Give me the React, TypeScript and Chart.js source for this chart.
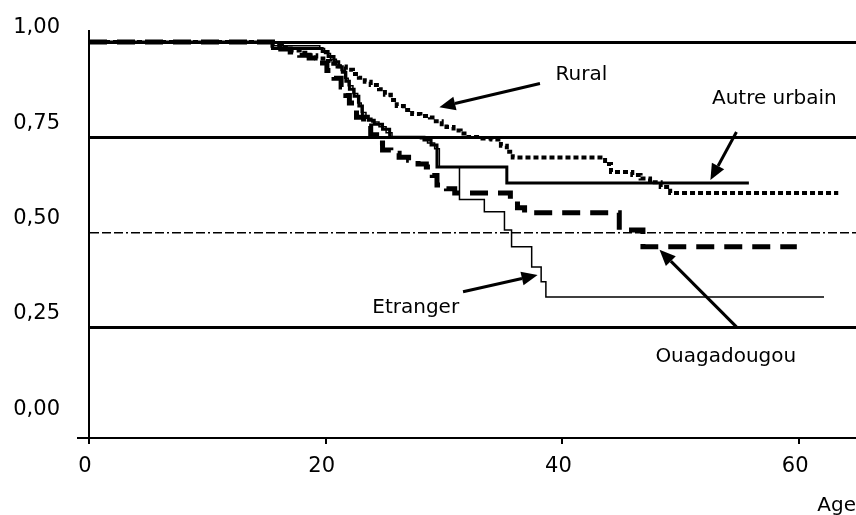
import React, { useEffect, useRef } from "react";
import { Chart, registerables } from "chart.js";

Chart.register(...registerables);

// ---- Tick values ----
const yTicks = [0, 0.25, 0.5, 0.75, 1];
const xTicks = [0, 20, 40, 60];

// ---- Series (Kaplan-Meier steps: age, survival after the step) ----
const ruralAge = [0, 15.5, 16.3, 17.0, 17.8, 18.5, 19.2, 19.8, 20.4, 21.0, 21.7, 22.3, 22.8, 23.3, 23.8, 24.5, 25.0, 25.5, 26.0, 26.6, 27.3, 28.0, 28.8, 29.3, 29.8, 30.2, 30.8, 31.4, 31.9, 33.0, 34.0, 34.8, 35.3, 35.8, 43.6, 44.1, 45.9, 46.6, 47.4, 48.3, 49.1, 63.3];
const ruralSurv = [1, 0.99, 0.984, 0.978, 0.972, 0.965, 0.957, 0.95, 0.943, 0.936, 0.927, 0.916, 0.906, 0.896, 0.887, 0.876, 0.862, 0.848, 0.832, 0.822, 0.811, 0.806, 0.802, 0.792, 0.784, 0.777, 0.768, 0.76, 0.751, 0.747, 0.744, 0.728, 0.712, 0.697, 0.68, 0.659, 0.651, 0.642, 0.632, 0.62, 0.604, 0.604];

const autreAge = [0, 15.5, 19.7, 20.2, 20.7, 21.1, 21.4, 21.7, 22.0, 22.4, 22.8, 23.1, 23.6, 24.1, 24.8, 25.4, 28.3, 28.9, 29.4, 35.3, 55.75];
const autreSurv = [1, 0.983, 0.975, 0.962, 0.948, 0.935, 0.921, 0.897, 0.876, 0.858, 0.832, 0.805, 0.795, 0.784, 0.771, 0.75, 0.743, 0.73, 0.672, 0.63, 0.63];

const etrangerAge = [0, 15.5, 19.5, 19.9, 20.4, 20.9, 21.3, 21.6, 21.9, 22.3, 22.7, 23.0, 23.4, 23.9, 24.5, 25.1, 25.6, 28.0, 28.6, 29.2, 29.6, 31.3, 33.4, 35.1, 35.7, 37.4, 38.2, 38.6, 62.1];
const etrangerSurv = [1, 0.99, 0.983, 0.97, 0.955, 0.94, 0.925, 0.905, 0.885, 0.865, 0.84, 0.815, 0.8, 0.79, 0.778, 0.762, 0.748, 0.746, 0.735, 0.72, 0.672, 0.587, 0.555, 0.507, 0.463, 0.41, 0.371, 0.331, 0.331];

const ouagaAge = [0, 15.5, 16.2, 17.0, 17.8, 18.6, 19.5, 20.1, 20.7, 21.3, 21.7, 22.0, 22.6, 23.2, 23.8, 24.3, 24.8, 25.5, 26.2, 27.0, 27.8, 28.5, 29.0, 29.4, 30.2, 30.9, 35.6, 36.2, 36.8, 44.8, 46.8, 59.8];
const ouagaSurv = [1, 0.99, 0.982, 0.974, 0.965, 0.958, 0.945, 0.925, 0.905, 0.882, 0.86, 0.84, 0.803, 0.78, 0.757, 0.735, 0.717, 0.708, 0.698, 0.69, 0.68, 0.672, 0.65, 0.625, 0.615, 0.604, 0.585, 0.565, 0.552, 0.507, 0.463, 0.463];

// ---- Annotation texts ----
const labelTexts = ["Rural", "Autre urbain", "Etranger", "Ouagadougou"];

// annotation placement (data units): label centre, arrow tail, arrow tip
const labelPlacement = [
  { at: [41.6, 0.913], from: [38.1, 0.891], to: [29.6, 0.829] },
  { at: [57.9, 0.85], from: [54.7, 0.764], to: [52.5, 0.638] },
  { at: [27.6, 0.303], from: [31.6, 0.345], to: [37.9, 0.389] },
  { at: [53.8, 0.174], from: [54.7, 0.253], to: [48.2, 0.455] },
];

const FONT = "'DejaVu Sans', sans-serif";

const pts = (a: number[], s: number[]) => a.map((x, i) => ({ x, y: s[i] }));

const annotationPlugin = {
  id: "kmAnnotations",
  afterDatasetsDraw(chart: any) {
    const { ctx, chartArea } = chart;
    const xs = chart.scales.x;
    const ys = chart.scales.y;
    ctx.save();
    // small stub of the x axis left of the y axis
    ctx.strokeStyle = "#000";
    ctx.lineWidth = 2;
    ctx.beginPath();
    ctx.moveTo(chartArea.left - 12, chartArea.bottom);
    ctx.lineTo(chartArea.left, chartArea.bottom);
    ctx.stroke();

    ctx.fillStyle = "#000";
    ctx.font = `20px ${FONT}`;
    ctx.textAlign = "center";
    ctx.textBaseline = "middle";
    labelPlacement.forEach((p, i) => {
      const lx = xs.getPixelForValue(p.at[0]);
      const ly = ys.getPixelForValue(p.at[1]);
      ctx.fillText(labelTexts[i], lx, ly);
      const x1 = xs.getPixelForValue(p.from[0]);
      const y1 = ys.getPixelForValue(p.from[1]);
      const x2 = xs.getPixelForValue(p.to[0]);
      const y2 = ys.getPixelForValue(p.to[1]);
      const ang = Math.atan2(y2 - y1, x2 - x1);
      const headLen = 16;
      const headW = 7;
      const bx = x2 - headLen * Math.cos(ang);
      const by = y2 - headLen * Math.sin(ang);
      ctx.lineWidth = 3;
      ctx.beginPath();
      ctx.moveTo(x1, y1);
      ctx.lineTo(bx, by);
      ctx.stroke();
      ctx.beginPath();
      ctx.moveTo(x2, y2);
      ctx.lineTo(bx + headW * Math.sin(ang), by - headW * Math.cos(ang));
      ctx.lineTo(bx - headW * Math.sin(ang), by + headW * Math.cos(ang));
      ctx.closePath();
      ctx.fill();
    });
    ctx.restore();
  },
};

export default function App() {
  const ref = useRef<HTMLCanvasElement | null>(null);

  useEffect(() => {
    if (!ref.current) return;
    const chart = new Chart(ref.current, {
      type: "line",
      data: {
        datasets: [
          {
            label: "Rural",
            data: pts(ruralAge, ruralSurv),
            borderColor: "#000",
            borderWidth: 4,
            borderDash: [5, 3],
            stepped: true,
            pointRadius: 0,
            fill: false,
          },
          {
            label: "Autre urbain",
            data: pts(autreAge, autreSurv),
            borderColor: "#000",
            borderWidth: 3,
            stepped: true,
            pointRadius: 0,
            fill: false,
          },
          {
            label: "Etranger",
            data: pts(etrangerAge, etrangerSurv),
            borderColor: "#000",
            borderWidth: 1.5,
            stepped: true,
            pointRadius: 0,
            fill: false,
          },
          {
            label: "Ouagadougou",
            data: pts(ouagaAge, ouagaSurv),
            borderColor: "#000",
            borderWidth: 5,
            borderDash: [18, 10],
            stepped: true,
            pointRadius: 0,
            fill: false,
          },
        ],
      },
      options: {
        animation: false,
        responsive: true,
        maintainAspectRatio: false,
        layout: { padding: { top: 31, left: 0, right: 0, bottom: 0 } },
        plugins: {
          legend: { display: false },
          tooltip: { enabled: false },
        },
        scales: {
          x: {
            type: "linear",
            min: 0,
            max: 64.8,
            afterBuildTicks: (s: any) => {
              s.ticks = xTicks.map((v) => ({ value: v }));
            },
            afterFit: (s: any) => {
              s.height = 77;
              s.paddingLeft = 0;
              s.paddingRight = 0;
            },
            grid: {
              drawOnChartArea: false,
              drawTicks: true,
              tickLength: 6,
              color: "#000",
              lineWidth: 2,
            },
            border: { display: true, color: "#000", width: 2 },
            ticks: {
              color: "#000",
              font: { family: FONT, size: 21 },
              padding: 10,
              labelOffset: -4,
              maxRotation: 0,
            },
            title: {
              display: true,
              text: "Age",
              align: "end",
              color: "#000",
              font: { family: FONT, size: 20 },
              padding: { top: 0, bottom: -3 },
            },
          },
          y: {
            type: "linear",
            min: -0.0386,
            max: 1.0289,
            afterBuildTicks: (s: any) => {
              s.ticks = yTicks.map((v) => ({ value: v }));
            },
            afterFit: (s: any) => {
              s.width = 89;
              s.paddingTop = 0;
              s.paddingBottom = 0;
            },
            grid: {
              drawTicks: false,
              color: (c: any) => (c.tick && c.tick.value === 0 ? "rgba(0,0,0,0)" : "#000"),
              lineWidth: (c: any) => (c.tick && c.tick.value === 0.5 ? 1.5 : 3),
            },
            border: {
              display: true,
              color: "#000",
              width: 2,
              dash: (c: any) => (c.tick && c.tick.value === 0.5 ? [9, 3, 9, 3, 9, 3, 2, 3] : []),
            },
            ticks: {
              color: "#000",
              font: { family: FONT, size: 21 },
              padding: 29,
              labelOffset: -14,
              callback: (v: any) => Number(v).toFixed(2).replace(".", ","),
            },
          },
        },
      },
      plugins: [annotationPlugin],
    });
    return () => chart.destroy();
  }, []);

  return (
    <div style={{ position: "absolute", left: 0, top: 0, width: 856, height: 515, background: "#fff" }}>
      <canvas ref={ref} />
    </div>
  );
}
